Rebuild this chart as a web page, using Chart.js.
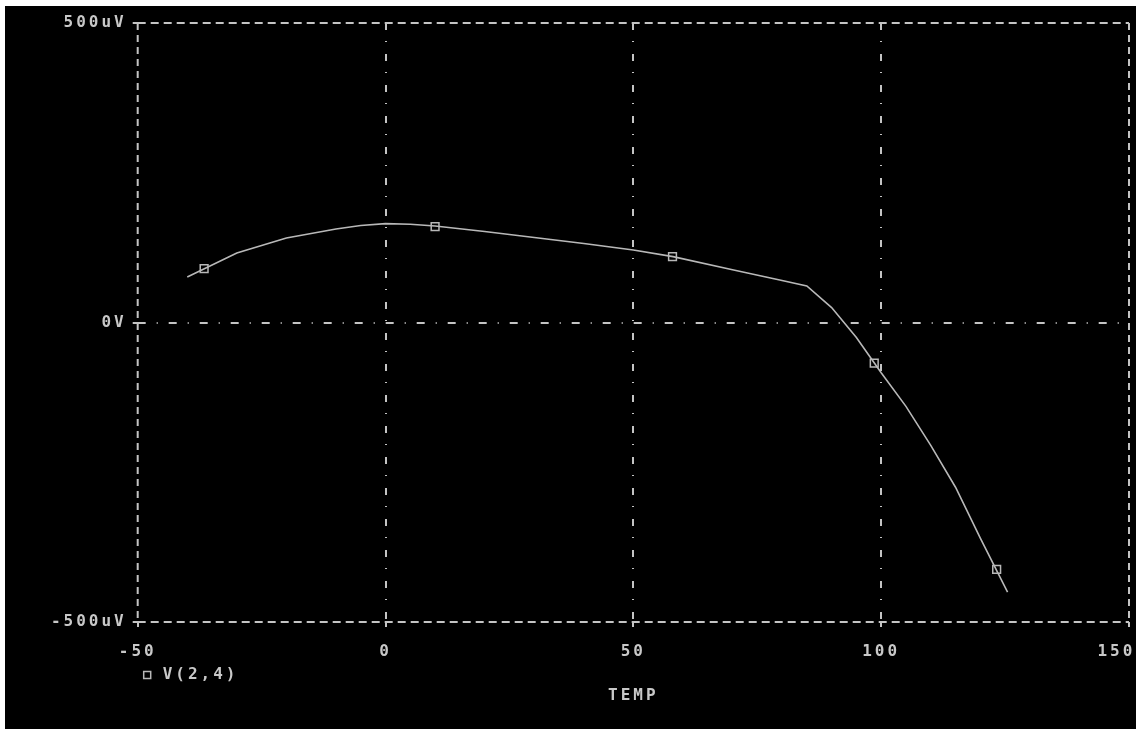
<!DOCTYPE html>
<html lang="en">
<head>
  <meta charset="UTF-8">
  <title>V(2,4) vs TEMP</title>
  <script src="https://cdn.jsdelivr.net/npm/chart.js@4.4.1/dist/chart.umd.min.js"></script>
  <style>
    body {
      margin: 0;
      background: #fff;
    }
    #plot {
      position: absolute;
      left: 5px;
      top: 6px;
      width: 1131px;
      height: 723px;
      background: #000;
    }
  </style>
</head>
<body>
  <div id="plot"><canvas id="chart"></canvas></div>

  <script>
    // TEMP sweep (deg C) and V(2,4) in uV
    const temps = [-40, -30, -20, -10, -5, 0, 5, 10, 20, 30, 40, 50, 58, 70, 80, 85, 90, 95, 100, 105, 110, 115, 120, 125.5];
    const volts = [76, 116, 141, 156, 162, 165, 164, 161, 152, 142, 132, 121, 110, 88, 70, 61, 25, -25, -84, -140, -205, -275, -360, -450];
    // where the square markers sit on the trace
    const markerTemps = [-36.6, 10, 57.9, 98.6, 123.3];
    const markerVolts = [90, 160, 110, -68, -412];
    const xTicks = [-50, 0, 50, 100, 150];
    const yTicks = [-500, 0, 500];
    const yTickLabels = ['-500uV', '0V', '500uV'];

    const GRID = '#c4c4c4';
    const TEXT = '#c8c8c8';
    const TRACE = '#b8b8b8';
    const FONT = {family: '"DejaVu Sans Mono", monospace', size: 16, weight: 'bold'};

    const frame = {
      id: 'frame',
      beforeDraw(chart) {
        chart.ctx.letterSpacing = '3px';
      },
      beforeDatasetsDraw(chart) {
        const {ctx, chartArea: a, scales: {x, y}} = chart;
        const line = (x1, y1, x2, y2, dash) => {
          ctx.setLineDash(dash);
          ctx.beginPath();
          ctx.moveTo(x1, y1);
          ctx.lineTo(x2, y2);
          ctx.stroke();
        };
        ctx.save();
        ctx.strokeStyle = GRID;
        ctx.lineWidth = 2;
        // inner grid, dash-dot
        xTicks.slice(1, -1).forEach(v => {
          const px = Math.round(x.getPixelForValue(v));
          line(px, a.top, px, a.bottom, [7, 11, 1, 12]);
        });
        const y0 = Math.round(y.getPixelForValue(0));
        line(a.left, y0, a.right, y0, [8, 11, 1, 11]);
        // frame
        line(a.left, a.top, a.right, a.top, [8, 5]);
        line(a.left, a.bottom, a.right, a.bottom, [8, 5]);
        line(a.left, a.top, a.left, a.bottom, [7, 5]);
        line(a.right, a.top, a.right, a.bottom, [7, 5]);
        // little ticks
        xTicks.forEach(v => {
          const px = Math.round(x.getPixelForValue(v));
          line(px, a.bottom, px, a.bottom + 5, []);
        });
        yTicks.forEach(v => {
          const py = Math.round(y.getPixelForValue(v));
          line(a.left - 5, py, a.left + 7, py, []);
        });
        ctx.restore();
      },
      afterDraw(chart) {
        const {ctx, chartArea: a} = chart;
        const ly = a.bottom + 53;
        ctx.save();
        ctx.strokeStyle = TRACE;
        ctx.lineWidth = 1.5;
        ctx.setLineDash([]);
        ctx.strokeRect(a.left + 6, ly - 3.5, 7, 7);
        ctx.fillStyle = TEXT;
        ctx.font = 'bold 16px "DejaVu Sans Mono", monospace';
        ctx.textBaseline = 'middle';
        ctx.textAlign = 'left';
        ctx.fillText(chart.data.datasets[0].label, a.left + 25, ly);
        ctx.restore();
      }
    };

    new Chart(document.getElementById('chart'), {
      type: 'scatter',
      plugins: [frame],
      data: {
        datasets: [{
          label: 'V(2,4)',
          data: temps.map((t, i) => ({x: t, y: volts[i]})),
          showLine: true,
          borderColor: TRACE,
          borderWidth: 1.6,
          pointRadius: 0,
          tension: 0
        }, {
          label: 'markers',
          data: markerTemps.map((t, i) => ({x: t, y: markerVolts[i]})),
          showLine: false,
          pointStyle: 'rect',
          pointRadius: 5.5,
          pointBorderWidth: 1.5,
          pointBorderColor: TRACE,
          pointBackgroundColor: '#000'
        }]
      },
      options: {
        responsive: true,
        maintainAspectRatio: false,
        animation: false,
        layout: {padding: {top: 17, right: 3, left: 0, bottom: 0}},
        plugins: {
          legend: {display: false},
          tooltip: {enabled: false}
        },
        scales: {
          x: {
            type: 'linear',
            min: -50,
            max: 150,
            afterFit: s => { s.height = 107; s.paddingLeft = 0; s.paddingRight = 0; },
            afterBuildTicks: s => { s.ticks = xTicks.map(v => ({value: v})); },
            grid: {display: false},
            border: {display: false},
            ticks: {
              color: TEXT,
              font: FONT,
              padding: 12,
              maxRotation: 0,
              // last label sits against the right edge, so pad it to push it left
              callback: v => v === xTicks[xTicks.length - 1] ? v + '\u2007\u2007' : String(v)
            },
            title: {display: true, text: 'TEMP', color: TEXT, font: FONT, padding: {top: 0, bottom: 24}}
          },
          y: {
            type: 'linear',
            min: -500,
            max: 500,
            afterFit: s => { s.width = 132.7; },
            afterBuildTicks: s => { s.ticks = yTicks.map(v => ({value: v})); },
            grid: {display: false},
            border: {display: false},
            ticks: {
              color: TEXT,
              font: FONT,
              padding: 3,
              callback: v => yTickLabels[yTicks.indexOf(v)]
            }
          }
        }
      }
    });
  </script>
</body>
</html>
